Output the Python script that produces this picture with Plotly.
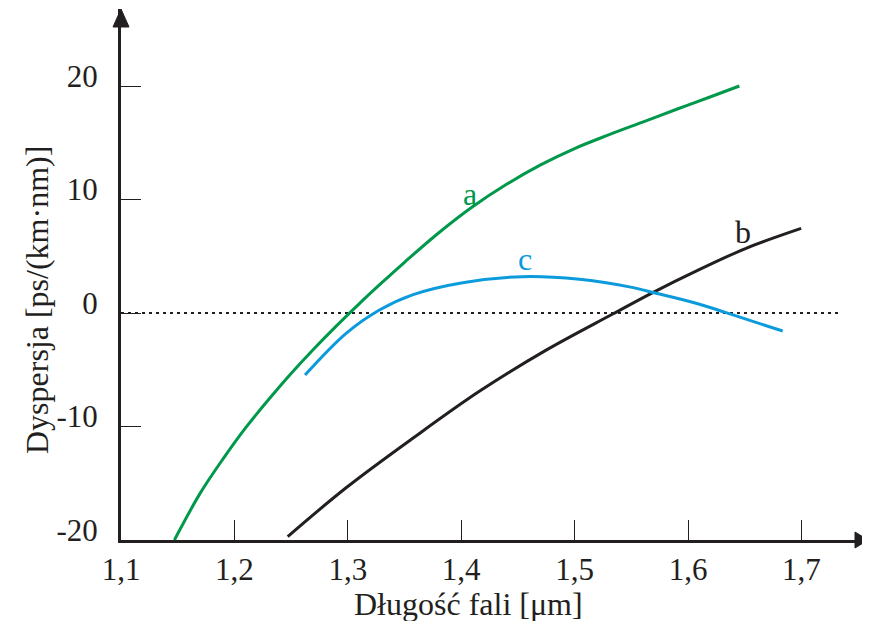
import plotly.graph_objects as go

# Curve a (green)
a_x = [1.1471, 1.17, 1.19, 1.21, 1.23, 1.25, 1.27, 1.29, 1.31, 1.33, 1.35, 1.38,
       1.41, 1.44, 1.47, 1.50, 1.53, 1.56, 1.59, 1.62, 1.6453]
a_y = [-20.0, -15.85, -12.85, -10.1, -7.65, -5.33, -3.17, -1.13, 0.81, 2.67, 4.47, 7.05,
       9.36, 11.34, 13.05, 14.49, 15.69, 16.82, 17.95, 19.05, 20.0]

# Curve b (black)
b_x = [1.247, 1.2985, 1.357, 1.416, 1.4749, 1.5336, 1.5689, 1.6071, 1.6512, 1.6998]
b_y = [-19.7, -15.4, -11.06, -6.9, -3.27, -0.09, 1.8, 3.69, 5.7, 7.45]

# Curve c (blue)
c_x = [1.2623, 1.2985, 1.3279, 1.357, 1.4013, 1.4542, 1.5042, 1.5483, 1.5719, 1.6071, 1.6336, 1.6835]
c_y = [-5.47, -1.8, 0.26, 1.6, 2.67, 3.2, 2.97, 2.3, 1.74, 0.86, 0.03, -1.59]

zero_x = [1.1, 1.733]
zero_y = [0, 0]

x_ticks = [1.1, 1.2, 1.3, 1.4, 1.5, 1.6, 1.7]
x_ticktext = ["1,1", "1,2", "1,3", "1,4", "1,5", "1,6", "1,7"]
y_ticks = [-20, -10, 0, 10, 20]
y_ticktext = ["-20", "-10", "0", "10", "20"]

labels = ["a", "b", "c"]
label_x = [1.408, 1.6483, 1.4563]
label_y = [10.48, 7.14, 4.76]

GREEN = "#00984A"
BLUE = "#0B9BDD"
BLACK = "#231F20"
FONT = "Liberation Serif, Times New Roman, serif"

fig = go.Figure()
fig.add_trace(go.Scatter(x=zero_x, y=zero_y, mode="lines",
                         line=dict(color=BLACK, width=2, dash="3px,4px"), hoverinfo="skip"))
fig.add_trace(go.Scatter(x=a_x, y=a_y, mode="lines", line=dict(color=GREEN, width=3, shape="spline")))
fig.add_trace(go.Scatter(x=b_x, y=b_y, mode="lines", line=dict(color=BLACK, width=3, shape="spline")))
fig.add_trace(go.Scatter(x=c_x, y=c_y, mode="lines", line=dict(color=BLUE, width=3, shape="spline")))

colors = [GREEN, BLACK, BLUE]
for t, lx, ly, col in zip(labels, label_x, label_y, colors):
    fig.add_annotation(x=lx, y=ly, text=t, showarrow=False, xanchor="center", yanchor="middle",
                       font=dict(family=FONT, size=32, color=col))

# page body has an 8px margin: figure is placed at (8, 8)
OFF = 8
W, H = 870 - OFF, 621 - OFF
ml, mr, mt, mb = 121 - OFF, 2, 9 - OFF, 81
pw, ph = W - ml - mr, H - mt - mb

fig.update_layout(
    template="none",
    width=W, height=H,
    margin=dict(l=ml, r=mr, t=mt, b=mb, autoexpand=False),
    paper_bgcolor="white", plot_bgcolor="white",
    showlegend=False,
    font=dict(family=FONT, size=31, color=BLACK),
    xaxis=dict(range=[1.1, 1.1 + pw / 1134.0], tickvals=x_ticks, ticktext=x_ticktext,
               ticks="inside", ticklen=20, tickwidth=1.3, tickcolor=BLACK, automargin=False,
               showline=True, linecolor=BLACK, linewidth=3, showgrid=False, zeroline=False,
               ticklabelstandoff=0, tickfont=dict(family=FONT, size=31, color=BLACK)),
    yaxis=dict(range=[-20, -20 + ph / 11.35], tickvals=y_ticks, ticktext=y_ticktext,
               ticks="inside", ticklen=20, tickwidth=1.3, tickcolor=BLACK, automargin=False,
               showline=True, linecolor=BLACK, linewidth=3, showgrid=False, zeroline=False,
               ticklabelstandoff=14, ticklabelshift=-10,
               tickfont=dict(family=FONT, size=31, color=BLACK)),
)

# axis titles as annotations (page pixel positions converted to paper coords)
fig.add_annotation(x=(468 - OFF - ml) / pw, y=1 - (604 - OFF - mt) / ph, xref="paper", yref="paper",
                   text="Długość fali [μm]", showarrow=False, xanchor="center", yanchor="middle",
                   font=dict(family=FONT, size=32, color=BLACK))
fig.add_annotation(x=(37 - OFF - ml) / pw, y=1 - (300 - OFF - mt) / ph, xref="paper", yref="paper",
                   text="Dyspersja [ps/(km·nm)]", showarrow=False, textangle=-90,
                   xanchor="center", yanchor="middle",
                   font=dict(family=FONT, size=32, color=BLACK))

# arrow heads
hw = 8 / pw
hh = 8 / ph
top_base = 1 - 18 / ph
fig.add_shape(type="path", xref="paper", yref="paper",
              path=f"M {-hw},{top_base} L 0,1 L {hw},{top_base} Z",
              fillcolor=BLACK, line=dict(color=BLACK, width=1))
right_base = 1 - 13 / pw
fig.add_shape(type="path", xref="paper", yref="paper",
              path=f"M {right_base},{hh} L 1,0 L {right_base},{-hh} Z",
              fillcolor=BLACK, line=dict(color=BLACK, width=1))

fig.write_html("out.html")
